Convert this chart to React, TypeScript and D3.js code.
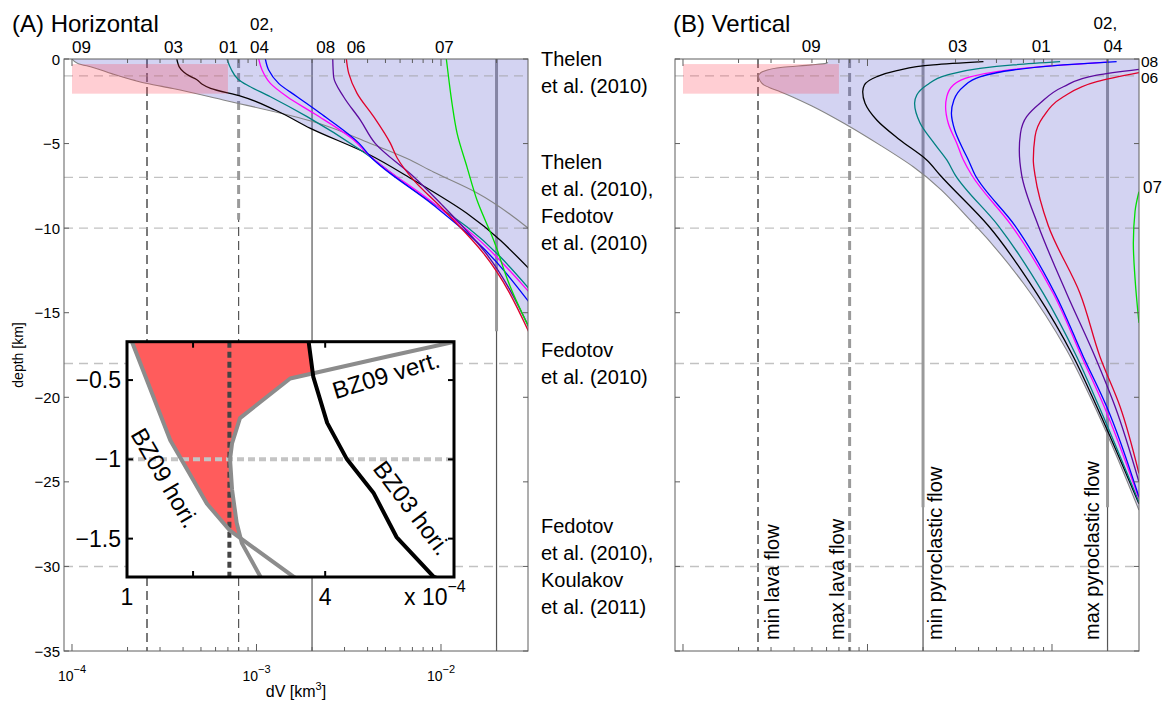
import React, { useEffect, useRef } from 'react';
import * as d3 from 'd3';

type Pt = [number, number]; // [depth km, dV km^3]

// (A) horizontal: smallest detectable volume change per station
const HORI_09: Pt[] = [[0, 1.0e-4], [-0.26, 1.076e-4], [-0.5, 1.3e-4], [-0.88, 1.655e-4], [-1.28, 2.21e-4], [-1.45, 2.56e-4], [-1.74, 3.52e-4], [-2.42, 6.6e-4], [-3.71, 2.04e-3], [-4.99, 4.14e-3], [-5.87, 6.5e-3], [-6.68, 9.1e-3], [-7.92, 1.57e-2], [-9.99, 2.96e-2]];
const HORI_03: Pt[] = [[0, 3.7e-4], [-0.26, 3.75e-4], [-0.48, 3.82e-4], [-0.77, 4.03e-4], [-1.0, 4.33e-4], [-1.21, 4.73e-4], [-1.49, 5.08e-4], [-1.74, 5.64e-4], [-2.21, 8.28e-4], [-3.03, 1.27e-3], [-4.1, 1.96e-3], [-5.6, 4.0e-3], [-7.16, 7.11e-3], [-9.12, 1.38e-2], [-12.38, 2.99e-2]];
const HORI_01: Pt[] = [[0, 6.92e-4], [-0.59, 7.28e-4], [-1.19, 7.94e-4], [-1.54, 8.89e-4], [-2.23, 1.19e-3], [-3.41, 1.88e-3], [-5.38, 3.66e-3], [-7.75, 7.11e-3], [-9.92, 1.38e-2], [-13.56, 2.99e-2]];
const HORI_02: Pt[] = [[0, 1.028e-3], [-0.65, 1.072e-3], [-1.44, 1.189e-3], [-2.23, 1.466e-3], [-3.21, 2.042e-3], [-4.79, 3.365e-3], [-5.58, 3.97e-3], [-8.53, 9.12e-3], [-10.59, 1.567e-2], [-13.76, 2.99e-2]];
const HORI_04: Pt[] = [[0, 1.117e-3], [-0.65, 1.164e-3], [-1.44, 1.318e-3], [-2.23, 1.66e-3], [-3.21, 2.218e-3], [-4.99, 3.6e-3], [-5.78, 4.15e-3], [-8.65, 9.12e-3], [-10.82, 1.567e-2], [-14.35, 2.99e-2]];
const HORI_08: Pt[] = [[0, 2.59e-3], [-1.05, 2.618e-3], [-2.23, 2.965e-3], [-3.61, 3.656e-3], [-4.99, 4.4e-3], [-6.96, 7.11e-3], [-8.53, 9.93e-3], [-11.3, 1.7e-2], [-15.83, 2.99e-2]];
const HORI_06: Pt[] = [[0, 3.07e-3], [-0.85, 3.162e-3], [-2.03, 3.508e-3], [-3.41, 4.315e-3], [-4.99, 5.321e-3], [-5.87, 5.8e-3], [-7.16, 7.11e-3], [-8.73, 9.93e-3], [-11.49, 1.7e-2], [-16.13, 2.99e-2]];
const HORI_07: Pt[] = [[0, 1.069e-2], [-1.42, 1.109e-2], [-2.72, 1.151e-2], [-4.38, 1.222e-2], [-6.39, 1.384e-2], [-8.34, 1.567e-2], [-10.7, 1.928e-2], [-13.48, 2.377e-2], [-15.85, 2.99e-2]];

// (B) vertical
const VERT_09: Pt[] = [[-0.2, 6.1e-4], [-0.26, 5.94e-4], [-0.35, 4.96e-4], [-0.49, 3.47e-4], [-0.74, 2.71e-4], [-0.9, 2.59e-4], [-1.0, 2.56e-4], [-1.19, 2.59e-4], [-1.4, 2.66e-4], [-1.53, 2.74e-4], [-1.74, 3.02e-4], [-1.93, 3.36e-4], [-2.82, 5.09e-4], [-3.9, 7.73e-4], [-5.09, 1.17e-3], [-6.37, 1.77e-3], [-9.72, 3.75e-3], [-13.26, 7.0e-3], [-17.21, 1.2e-2], [-20.16, 1.64e-2], [-26.67, 2.96e-2]];
const VERT_03: Pt[] = [[-0.16, 4.25e-3], [-0.35, 2.275e-3], [-0.69, 1.442e-3], [-1.05, 1.122e-3], [-1.54, 9.62e-4], [-1.93, 9.42e-4], [-2.62, 9.7e-4], [-3.61, 1.122e-3], [-4.79, 1.5e-3], [-5.97, 2.094e-3], [-6.86, 2.47e-3], [-9.86, 4.52e-3], [-13.86, 8.26e-3], [-17.6, 1.306e-2], [-20.56, 1.75e-2], [-26.3, 2.96e-2]];
const VERT_01: Pt[] = [[-0.16, 1.107e-2], [-0.35, 6.18e-3], [-0.55, 4.07e-3], [-0.95, 2.69e-3], [-1.54, 2.1e-3], [-2.13, 1.85e-3], [-2.62, 1.8e-3], [-3.8, 1.93e-3], [-4.99, 2.3e-3], [-5.97, 2.69e-3], [-6.86, 2.99e-3], [-9.86, 5.12e-3], [-13.86, 8.97e-3], [-17.6, 1.362e-2], [-20.56, 1.8e-2], [-26.2, 2.96e-2]];
const VERT_02: Pt[] = [[-0.18, 2.0e-2], [-0.46, 8.5e-3], [-0.75, 5.02e-3], [-1.05, 3.6e-3], [-1.54, 2.92e-3], [-2.23, 2.69e-3], [-2.82, 2.65e-3], [-3.8, 2.74e-3], [-4.99, 3.05e-3], [-5.97, 3.31e-3], [-6.86, 3.67e-3], [-9.86, 6.05e-3], [-13.86, 1.016e-2], [-17.6, 1.449e-2], [-20.56, 1.92e-2], [-26.0, 2.96e-2]];
const VERT_04: Pt[] = [[-0.16, 2.24e-2], [-0.35, 1.153e-2], [-0.65, 6.18e-3], [-1.05, 4.07e-3], [-1.64, 3.31e-3], [-2.42, 2.94e-3], [-3.21, 2.85e-3], [-4.2, 2.97e-3], [-5.38, 3.31e-3], [-5.97, 3.52e-3], [-6.86, 3.83e-3], [-9.86, 6.31e-3], [-13.86, 1.038e-2], [-17.6, 1.479e-2], [-20.56, 1.98e-2], [-25.9, 2.96e-2]];
const VERT_08: Pt[] = [[-0.61, 2.96e-2], [-0.95, 1.75e-2], [-1.64, 1.153e-2], [-2.62, 8.61e-3], [-3.41, 7.29e-3], [-4.39, 6.75e-3], [-5.38, 6.65e-3], [-6.86, 6.85e-3], [-9.86, 8.43e-3], [-13.86, 1.201e-2], [-17.6, 1.711e-2], [-20.56, 2.2e-2], [-25.0, 2.96e-2]];
const VERT_06: Pt[] = [[-0.81, 2.96e-2], [-1.34, 1.75e-2], [-2.23, 1.153e-2], [-3.41, 8.97e-3], [-4.59, 8.09e-3], [-5.97, 7.92e-3], [-6.86, 8.09e-3], [-9.86, 9.55e-3], [-13.86, 1.419e-2], [-17.6, 1.82e-2], [-20.56, 2.34e-2], [-24.5, 2.96e-2]];
const VERT_07: Pt[] = [[-7.85, 2.96e-2], [-9.0, 2.82e-2], [-10.9, 2.76e-2], [-13.0, 2.82e-2], [-15.6, 2.96e-2]];

const STATIONS = ['09', '03', '01', '02', '04', '08', '06', '07'];
const COLORS = ['#858585', '#000000', '#008080', '#ff00ff', '#0000ff', '#5c0a9e', '#e0002a', '#00e000'];
const HORI = [HORI_09, HORI_03, HORI_01, HORI_02, HORI_04, HORI_08, HORI_06, HORI_07];
const VERT = [VERT_09, VERT_03, VERT_01, VERT_02, VERT_04, VERT_08, VERT_06, VERT_07];

// reference volumes
const REF_DV = [2.55e-4, 8e-4, 2e-3, 2e-2];
const REF_NAMES = ['min lava flow', 'max lava flow', 'min pyroclastic flow', 'max pyroclastic flow'];
const REF_BAND_A = [0, -9.5, 0, -16.1];
const REF_BAND_B = [0, -35, -26.5, -26.5];

const DEPTH_LINES = [-1, -7, -10, -18, -30];
const DEPTH_TICKS = [0, -5, -10, -15, -20, -25, -30, -35];
const ZOOM_DV = [1e-4, 7e-4];
const ZOOM_DEPTH = [-0.3, -2.05];

const LABELS_A = [['09', 1.0e-4, 1], ['03', 3.15e-4, 1], ['01', 6.26e-4, 1], ['02,', 9.22e-4, 0], ['04', 9.22e-4, 1], ['08', 2.11e-3, 1], ['06', 3.08e-3, 1], ['07', 9.27e-3, 1]];
const LABELS_B = [['09', 4.4e-4, 1], ['03', 2.74e-3, 1], ['01', 7.76e-3, 1], ['02,', 1.68e-2, 0], ['04', 1.9e-2, 1]];
const SIDE_LABELS_B = [['08', -0.45], ['06', -1.4], ['07', -7.9]];

const CITES = [
  ['Thelen', 'et al. (2010)'],
  ['Thelen', 'et al. (2010),', 'Fedotov', 'et al. (2010)'],
  ['Fedotov', 'et al. (2010)'],
  ['Fedotov', 'et al. (2010),', 'Koulakov', 'et al. (2011)'],
];
const CITE_DEPTHS = [-0.8, -8.5, -18, -30];

const X_MIN = 9.05e-5;
const X_MAX = 2.962e-2;
const TOP = 59;
const BOTTOM = 651;
const FONT = "'Liberation Sans', Arial, Helvetica, sans-serif";
const FILL = '#3c3cc8';

function interpDV(c: Pt[], d: number): number {
  for (let i = 0; i < c.length - 1; i++) {
    const [d0, v0] = c[i];
    const [d1, v1] = c[i + 1];
    if (d <= d0 && d >= d1) return v0 + (v1 - v0) * (d - d0) / (d1 - d0);
  }
  return NaN;
}

function crossing(a: Pt[], b: Pt[], from: number, to: number): number {
  let prev = interpDV(a, from) - interpDV(b, from);
  for (let d = from; d >= to; d -= 0.002) {
    const cur = interpDV(a, d) - interpDV(b, d);
    if (!isNaN(prev) && !isNaN(cur) && Math.sign(cur) !== Math.sign(prev)) return d;
    prev = cur;
  }
  return to;
}

function text(g: any, x: number, y: number, s: string, size: number, anchor = 'start') {
  return g.append('text')
    .attr('x', x).attr('y', y)
    .attr('font-family', FONT)
    .attr('font-size', size)
    .attr('text-anchor', anchor)
    .attr('fill', '#000')
    .text(s);
}

function drawPanel(svg: any, key: string, left: number, right: number, curves: Pt[][], band: number[]) {
  const x = d3.scaleLog().domain([X_MIN, X_MAX]).range([left, right]);
  const y = d3.scaleLinear().domain([0, -35]).range([TOP, BOTTOM]);
  const line = d3.line<Pt>().x(d => x(d[1])).y(d => y(d[0])).curve(d3.curveMonotoneY);

  svg.append('clipPath').attr('id', 'clip' + key)
    .append('rect').attr('x', left).attr('y', TOP).attr('width', right - left).attr('height', BOTTOM - TOP);
  const g = svg.append('g').attr('clip-path', `url(#clip${key})`);

  // reference volumes
  REF_DV.forEach((v, i) => {
    const dashed = i < 2;
    g.append('line')
      .attr('x1', x(v)).attr('x2', x(v)).attr('y1', TOP).attr('y2', BOTTOM)
      .attr('stroke', i === 0 ? '#222' : '#555')
      .attr('stroke-width', 1.2)
      .attr('stroke-dasharray', dashed ? '9,5' : null);
    if (band[i] < 0) {
      g.append('line')
        .attr('x1', x(v)).attr('x2', x(v)).attr('y1', TOP).attr('y2', y(band[i]))
        .attr('stroke', '#9a9a9a')
        .attr('stroke-width', 3)
        .attr('stroke-dasharray', dashed ? '9,5' : null);
    }
  });

  // detectable region: union of areas right of every curve
  const fillG = g.append('g').attr('opacity', 0.22);
  curves.forEach(c => {
    const first = c[0];
    const last = c[c.length - 1];
    const p = line(c) as string;
    const d = `M${x(first[1])},${y(0)}L` + p.slice(1) +
      `L${right + 5},${y(last[0])}L${right + 5},${y(0)}Z`;
    fillG.append('path').attr('d', d).attr('fill', FILL);
  });

  DEPTH_LINES.forEach(dep => {
    g.append('line')
      .attr('x1', left).attr('x2', right).attr('y1', y(dep)).attr('y2', y(dep))
      .attr('stroke', '#999').attr('stroke-opacity', 0.6)
      .attr('stroke-width', 1.4).attr('stroke-dasharray', '9,6');
  });

  curves.forEach((c, i) => {
    g.append('path')
      .attr('d', line(c))
      .attr('fill', 'none')
      .attr('stroke', COLORS[i])
      .attr('stroke-width', i === 0 ? 1.1 : 1.3);
  });

  g.append('rect')
    .attr('x', x(ZOOM_DV[0])).attr('y', y(ZOOM_DEPTH[0]))
    .attr('width', x(ZOOM_DV[1]) - x(ZOOM_DV[0]))
    .attr('height', y(ZOOM_DEPTH[1]) - y(ZOOM_DEPTH[0]))
    .attr('fill', '#ff3c50').attr('opacity', 0.25);

  // frame and ticks
  const axisColor = '#5e5e5e';
  svg.append('rect')
    .attr('x', left).attr('y', TOP).attr('width', right - left).attr('height', BOTTOM - TOP)
    .attr('fill', 'none').attr('stroke', axisColor).attr('stroke-width', 1);
  DEPTH_TICKS.forEach(t => {
    [[left, left + 5], [right, right - 5]].forEach(([a, b]) => {
      svg.append('line').attr('x1', a).attr('x2', b).attr('y1', y(t)).attr('y2', y(t))
        .attr('stroke', axisColor);
    });
  });
  for (let e = -5; e <= -2; e++) {
    for (let m = 1; m <= 9; m++) {
      const v = m * Math.pow(10, e);
      if (v < X_MIN || v > X_MAX) continue;
      const len = m === 1 ? 7 : 4;
      svg.append('line').attr('x1', x(v)).attr('x2', x(v)).attr('y1', BOTTOM).attr('y2', BOTTOM - len).attr('stroke', axisColor);
      svg.append('line').attr('x1', x(v)).attr('x2', x(v)).attr('y1', TOP).attr('y2', TOP + len).attr('stroke', axisColor);
    }
  }
  return { x, y };
}

function drawInset(svg: any) {
  const L = 127, R = 454, T = 341.7, B = 577;
  const x = d3.scaleLinear().domain([1e-4, 5.95e-4]).range([L, R]);
  const y = d3.scaleLinear().domain([-0.258, -1.742]).range([T, B]);
  const line = d3.line<Pt>().x(d => x(d[1])).y(d => y(d[0]));

  svg.append('rect').attr('x', L).attr('y', T).attr('width', R - L).attr('height', B - T).attr('fill', '#fff');
  svg.append('clipPath').attr('id', 'clipInset')
    .append('rect').attr('x', L).attr('y', T).attr('width', R - L).attr('height', B - T);
  const g = svg.append('g').attr('clip-path', 'url(#clipInset)');

  const c1 = crossing(HORI_09, VERT_09, -1.0, -1.74);
  const c2 = crossing(VERT_09, HORI_03, -0.26, -1.0);
  const red: Pt[] = [
    ...HORI_09.filter(p => p[0] > c1),
    [c1, interpDV(HORI_09, c1)],
    ...VERT_09.filter(p => p[0] < c2 && p[0] > c1).reverse(),
    [c2, interpDV(HORI_03, c2)],
    ...HORI_03.filter(p => p[0] > c2).reverse(),
  ];
  g.append('path').attr('d', line(red) + 'Z').attr('fill', '#ff5c5c');

  g.append('line').attr('x1', L).attr('x2', R).attr('y1', y(-1)).attr('y2', y(-1))
    .attr('stroke', '#c4c4c4').attr('stroke-width', 4).attr('stroke-dasharray', '7,4');
  g.append('line').attr('x1', x(REF_DV[0])).attr('x2', x(REF_DV[0])).attr('y1', T).attr('y2', B)
    .attr('stroke', '#444').attr('stroke-width', 4).attr('stroke-dasharray', '6,4');

  [[HORI_09, '#8c8c8c'], [VERT_09, '#8c8c8c'], [HORI_03, '#000']].forEach(([c, col]: any) => {
    g.append('path').attr('d', line(c)).attr('fill', 'none').attr('stroke', col)
      .attr('stroke-width', 4).attr('stroke-linejoin', 'round');
  });

  const rot = (s: string, cx: number, cy: number, a: number) =>
    text(svg, 0, 0, s, 24, 'middle').attr('transform', `translate(${cx},${cy}) rotate(${a})`).attr('dy', '0.35em');
  rot('BZ09 vert.', 386, 375, -17);
  rot('BZ09 hori.', 165, 478, 60);
  rot('BZ03 hori.', 412, 508, 53);

  svg.append('rect').attr('x', L).attr('y', T).attr('width', R - L).attr('height', B - T)
    .attr('fill', 'none').attr('stroke', '#000').attr('stroke-width', 3);

  [-0.5, -1, -1.5].forEach(t => {
    svg.append('line').attr('x1', L).attr('x2', L + 6).attr('y1', y(t)).attr('y2', y(t)).attr('stroke', '#000').attr('stroke-width', 2);
    svg.append('line').attr('x1', R).attr('x2', R - 6).attr('y1', y(t)).attr('y2', y(t)).attr('stroke', '#000').attr('stroke-width', 2);
    text(svg, 121, y(t) + 8, String(t).replace('-', '\u2212'), 23, 'end');
  });
  [2e-4, 4e-4].forEach(t => {
    svg.append('line').attr('x1', x(t)).attr('x2', x(t)).attr('y1', B).attr('y2', B - 6).attr('stroke', '#000').attr('stroke-width', 2);
    svg.append('line').attr('x1', x(t)).attr('x2', x(t)).attr('y1', T).attr('y2', T + 6).attr('stroke', '#000').attr('stroke-width', 2);
  });
  text(svg, x(1e-4), 605, '1', 23, 'middle');
  text(svg, x(4e-4), 605, '4', 23, 'middle');
  const e = text(svg, 404, 605, 'x 10', 23);
  e.append('tspan').attr('dy', -13).attr('font-size', 16).text('\u22124');
}

function App() {
  const ref = useRef<SVGSVGElement>(null);

  useEffect(() => {
    const svg = d3.select(ref.current);
    svg.selectAll('*').remove();

    const A = drawPanel(svg, 'A', 64, 528, HORI, REF_BAND_A);
    const Bp = drawPanel(svg, 'B', 675, 1139, VERT, REF_BAND_B);

    // axis labels of panel A
    DEPTH_TICKS.forEach(t => {
      text(svg, 60, A.y(t) + 5.5, t === 0 ? '0' : '\u2212' + Math.abs(t), 15, 'end');
    });
    [-4, -3, -2].forEach(ex => {
      const t = text(svg, A.x(Math.pow(10, ex)), 681, '10', 14, 'middle');
      t.append('tspan').attr('dy', -8).attr('font-size', 11).text('\u2212' + Math.abs(ex));
    });
    const dv = text(svg, 296, 697, 'dV [km', 16, 'middle');
    dv.append('tspan').attr('dy', -7).attr('font-size', 11).text('3');
    dv.append('tspan').attr('dy', 7).text(']');
    text(svg, 0, 0, 'depth [km]', 14, 'middle').attr('transform', `translate(23,${(TOP + BOTTOM) / 2}) rotate(-90)`);

    text(svg, 12, 32, '(A) Horizontal', 24);
    text(svg, 673, 32, '(B) Vertical', 24);

    LABELS_A.forEach(([s, v, row]: any) => text(svg, A.x(v), row ? 53 : 30, s, 17));
    LABELS_B.forEach(([s, v, row]: any) => text(svg, Bp.x(v), row ? 52 : 29, s, 17));
    SIDE_LABELS_B.forEach(([s, d]: any) => text(svg, s === '07' ? 1143 : 1141, Bp.y(d), s, s === '07' ? 17 : 15.5));

    // reference volume names in panel B
    const offs = [21, -6, 18.5, -8.7];
    REF_NAMES.forEach((s, i) => {
      text(svg, 0, 0, s, 20).attr('transform', `translate(${Bp.x(REF_DV[i]) + offs[i]},640) rotate(-90)`);
    });

    // literature depth ranges
    CITES.forEach((lines, i) => {
      const yc = A.y(CITE_DEPTHS[i]);
      lines.forEach((s, j) => {
        text(svg, 541, yc - ((lines.length - 1) / 2) * 27 + j * 27 + 7, s, 20);
      });
    });

    drawInset(svg);
  }, []);

  return (
    <div style={{ position: 'absolute', left: 0, top: 0 }}>
      <svg ref={ref} width={1166} height={702} style={{ display: 'block', background: '#fff' }} />
    </div>
  );
}

export default App;
